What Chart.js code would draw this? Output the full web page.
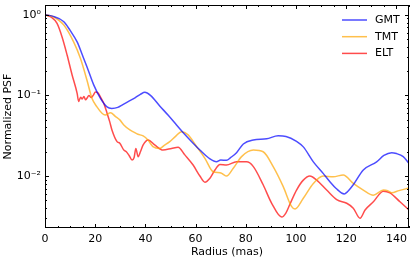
<!DOCTYPE html>
<html><head><meta charset="utf-8">
<script src="https://cdn.jsdelivr.net/npm/chart.js@4/dist/chart.umd.min.js"></script>
<style>html,body{margin:0;padding:0;background:#fff}#wrap{width:415px;height:257px}</style>
</head><body><div id="wrap"><canvas id="c" width="415" height="257"></canvas></div>
<script>
const gmtR = [0,3,7.5,10,12.8,15,16.7,19.4,22.1,24.7,26.6,29,31,33.8,36,38,39.8,42,45.7,49,52.4,56,59,61.7,65.7,68.3,70,72.3,74,76.3,79,83,88.3,92.9,96,100.2,102.9,106.9,110.8,113.5,116,119.2,120.5,122.8,126.8,132.1,135,138.1,140,142.7,145];
const gmtV = [1.0,0.96,0.82,0.64,0.46,0.31,0.227,0.135,0.092,0.072,0.069,0.071,0.077,0.086,0.094,0.103,0.109,0.1,0.074,0.057,0.043,0.032,0.0255,0.021,0.0163,0.015,0.0158,0.0157,0.017,0.0195,0.025,0.028,0.029,0.0315,0.031,0.027,0.023,0.015,0.0108,0.0085,0.007,0.006,0.0064,0.0078,0.0119,0.015,0.018,0.0195,0.019,0.0174,0.0144];
const tmtR = [0,3,7.5,11.4,14.1,16.7,18.7,20.7,22.7,24,26.1,28,29.8,31.4,33.8,35.4,37,39.1,41,43,45.7,47.5,49.7,52,54.4,57,60.4,63.7,67,69.7,71,72.3,75,78.3,83,86.9,90.9,94.9,98.2,99.6,102.9,106.9,110.8,114.8,118.8,122.8,126.8,130.8,134.8,136.5,138.1,141,145];
const tmtV = [1.0,0.95,0.745,0.46,0.288,0.155,0.092,0.072,0.06,0.057,0.061,0.055,0.0497,0.043,0.0373,0.035,0.033,0.0314,0.028,0.0232,0.022,0.024,0.0267,0.031,0.0355,0.0324,0.0232,0.0166,0.0113,0.011,0.0105,0.010,0.0125,0.0174,0.021,0.020,0.0131,0.0074,0.0042,0.0039,0.0053,0.0081,0.010,0.0098,0.0103,0.0081,0.0067,0.0058,0.0067,0.0066,0.0062,0.0066,0.0071];
const eltR = [0,2.5,4.8,6.8,8.8,10.8,12.8,13.4,14.2,14.8,15.5,16.2,16.7,17.5,18.3,19.2,20.1,21,22.7,23.4,24.7,25.8,26.7,28.7,29.8,31.4,32.4,33.5,34.7,35.5,36.2,37.1,38,39.1,41.1,43.7,47,50.4,53,55.7,59,61.7,63.7,65.7,67.7,69.7,72.3,76.3,80.3,83,86.9,90.3,94.3,96,97.6,100.2,102.9,105.5,108.2,112.2,116.2,120.2,122.8,125.5,127.5,130.8,134.8,137.4,141.4,145];
const eltV = [1.0,0.93,0.78,0.53,0.317,0.179,0.106,0.084,0.095,0.09,0.097,0.088,0.092,0.1,0.094,0.1,0.11,0.108,0.088,0.08,0.0605,0.047,0.037,0.0267,0.0255,0.021,0.02,0.018,0.0158,0.017,0.022,0.0174,0.02,0.0243,0.028,0.0243,0.021,0.022,0.0228,0.0183,0.0137,0.0100,0.0084,0.0094,0.0119,0.0139,0.0137,0.015,0.015,0.0131,0.0078,0.0046,0.0031,0.0035,0.0045,0.0067,0.0089,0.010,0.0089,0.0067,0.0051,0.0046,0.004,0.003,0.0038,0.0048,0.0065,0.0062,0.0048,0.0038];
const seriesNames = ['GMT','TMT','ELT'];
const xTickValues = [0,20,40,60,80,100,120,140];
const yTickValues = [0.01,0.1,1];
const yTickLabels = ['10\u207B\u00B2','10\u207B\u00B9','10\u2070'];

const colors = ['rgba(0,0,255,0.7)','rgba(255,165,0,0.7)','rgba(255,0,0,0.7)'];
const pts = (r,v)=>r.map((x,i)=>({x:x,y:v[i]}));
const FONT = 'DejaVu Sans';

const framePlugin = {
  id:'frame',
  afterDraw(chart){
    const ctx = chart.ctx, a = chart.chartArea, xs = chart.scales.x, ys = chart.scales.y;
    ctx.save();
    ctx.strokeStyle = '#000'; ctx.lineWidth = 1;
    ctx.strokeRect(Math.round(a.left)+0.5, Math.round(a.top)+0.5, Math.round(a.right-a.left)-1, Math.round(a.bottom-a.top)-1);
    ctx.beginPath();
    for (let v=0; v<=xs.max; v+=5){
      const p = Math.round(xs.getPixelForValue(v))+0.5;
      const L = (v%20===0)?4:2;
      ctx.moveTo(p,a.bottom); ctx.lineTo(p,a.bottom-L);
      ctx.moveTo(p,a.top); ctx.lineTo(p,a.top+L);
    }
    for (let k=-3;k<=0;k++){
      for (let m=1;m<=9;m++){
        const v = m*Math.pow(10,k);
        if (v<ys.min||v>ys.max) continue;
        const p = Math.round(ys.getPixelForValue(v))+0.5;
        const L = (m===1)?4:2;
        ctx.moveTo(a.left,p); ctx.lineTo(a.left+L,p);
        ctx.moveTo(a.right,p); ctx.lineTo(a.right-L,p);
      }
    }
    ctx.stroke();
    // legend
    ctx.font = '11px "'+FONT+'"';
    ctx.textBaseline = 'middle';
    chart.data.datasets.forEach((ds,i)=>{
      const y = a.top + 15 + i*16.7;
      const x0 = a.right - 67;
      ctx.strokeStyle = ds.borderColor; ctx.lineWidth = 1.5;
      ctx.beginPath(); ctx.moveTo(x0,y); ctx.lineTo(x0+25,y); ctx.stroke();
      ctx.fillStyle = '#000';
      ctx.fillText(ds.label, x0+33, y);
    });
    ctx.restore();
  }
};

new Chart(document.getElementById('c'), {
  type:'line',
  data:{datasets:[
    {label:seriesNames[0], data:pts(gmtR,gmtV), borderColor:colors[0]},
    {label:seriesNames[1], data:pts(tmtR,tmtV), borderColor:colors[1]},
    {label:seriesNames[2], data:pts(eltR,eltV), borderColor:colors[2]}
  ]},
  options:{
    responsive:false, animation:false, devicePixelRatio:1,
    layout:{padding:{top:5,right:6,left:0,bottom:0}},
    elements:{point:{radius:0}, line:{borderWidth:1.5, tension:0.3, cubicInterpolationMode:'monotone'}},
    plugins:{legend:{display:false}, tooltip:{enabled:false}},
    scales:{
      x:{type:'linear', min:0, max:145,
        afterBuildTicks(s){ s.ticks = xTickValues.map(v=>({value:v})); },
        afterFit(s){ s.height = 29; s.paddingLeft = 0; s.paddingRight = 0; },
        grid:{display:false, drawTicks:false}, border:{display:false},
        ticks:{color:'#000', font:{family:FONT,size:11}, padding:5, maxRotation:0},
        title:{display:true, text:'Radius (mas)', color:'#000', font:{family:FONT,size:11}, padding:{top:0,bottom:-2}}
      },
      y:{type:'logarithmic', min:0.00227, max:1.32,
        afterBuildTicks(s){ s.ticks = yTickValues.map(v=>({value:v})); },
        afterFit(s){ s.width = 45; s.paddingTop = 0; s.paddingBottom = 0; },
        grid:{display:false, drawTicks:false}, border:{display:false},
        ticks:{color:'#000', font:{family:FONT,size:11}, padding:4,
          callback(v){ const i = yTickValues.indexOf(v); return i>=0 ? yTickLabels[i] : ''; }},
        title:{display:true, text:'Normalized PSF', color:'#000', font:{family:FONT,size:11}, padding:{top:2,bottom:0}}
      }
    }
  },
  plugins:[framePlugin]
});
</script></body></html>
